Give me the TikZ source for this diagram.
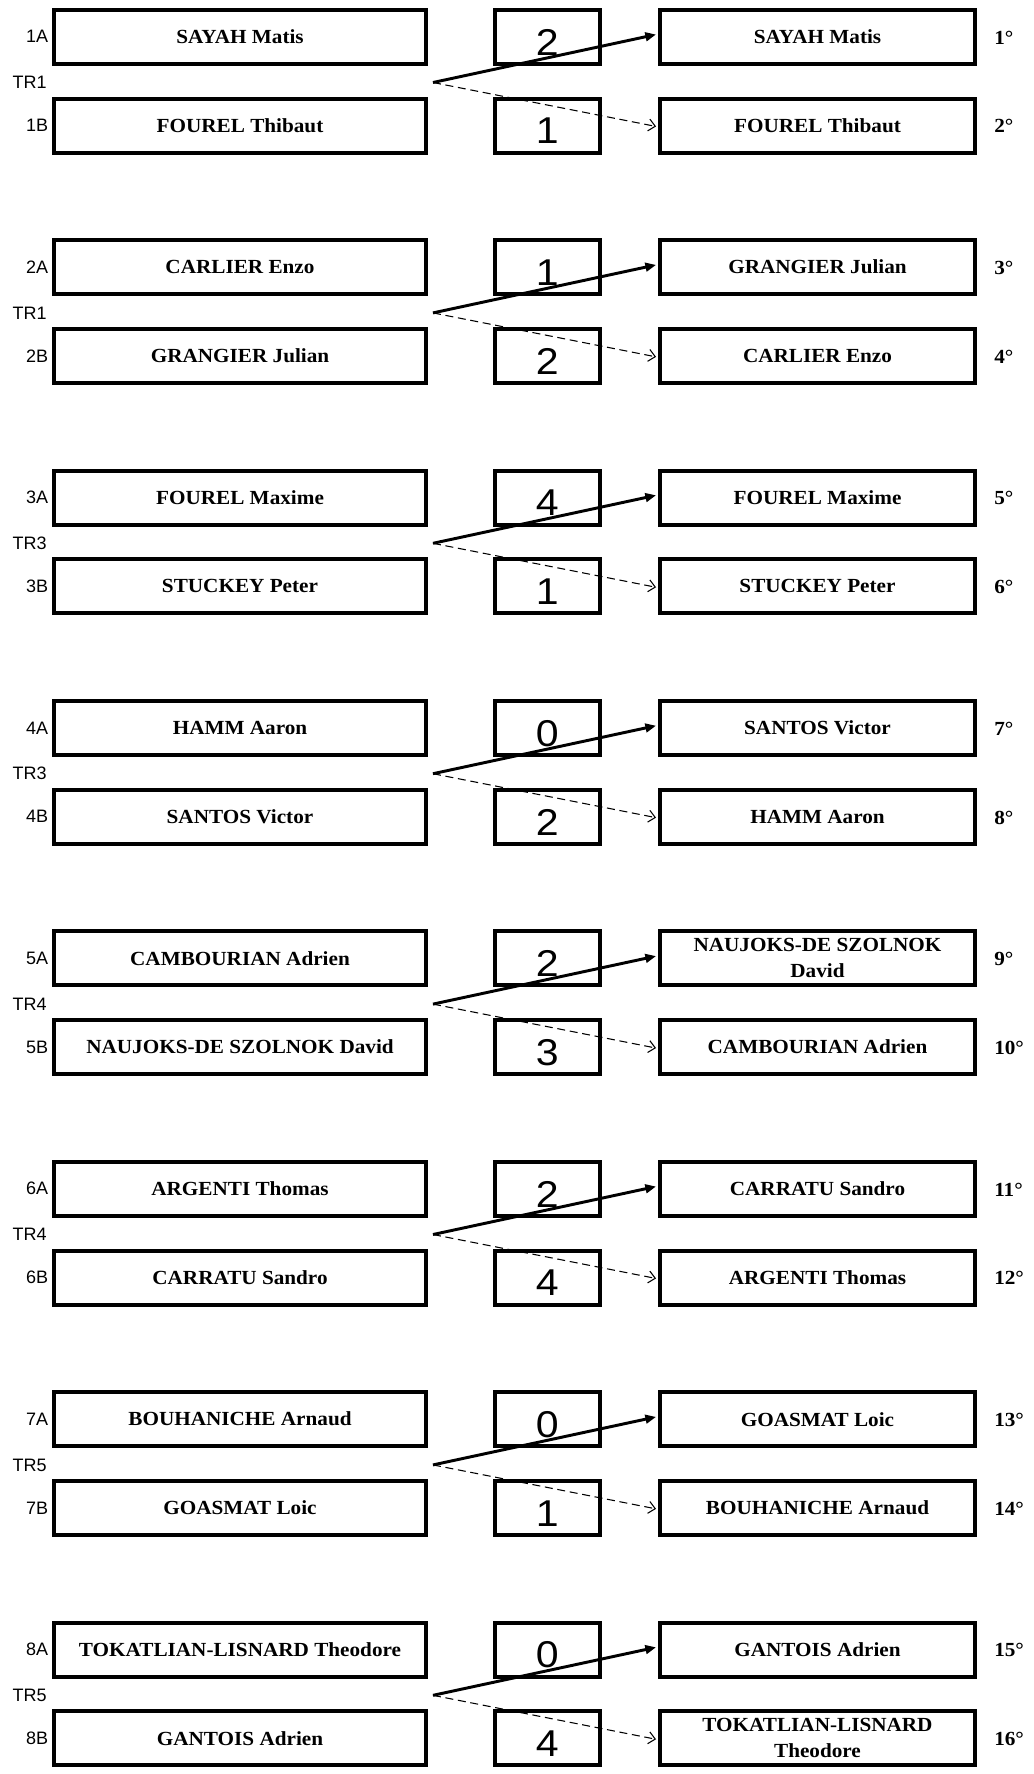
\documentclass[tikz,border=0pt]{standalone}
\usepackage{fontspec}
\setmainfont{Liberation Serif}
\newfontfamily\namefont[FakeStretch=1.06]{Liberation Serif}
\newfontfamily\labfont{Liberation Sans}
\newfontfamily\scorefont[FakeStretch=1.1]{Liberation Sans}
\usetikzlibrary{arrows.meta}
\tikzset{
 namebox/.style={draw, line width=3pt, inner sep=0pt, minimum height=40.5pt, align=center,
   font=\namefont\bfseries\fontsize{15}{19.5}\selectfont},
 leftbox/.style={namebox, minimum width=279pt},
 rightbox/.style={namebox, minimum width=236.25pt},
 scorebox/.style={draw, line width=3pt, inner sep=0pt, minimum height=40.5pt, minimum width=78.75pt,
   text height=27.6pt, text depth=0pt, font=\scorefont\fontsize{28}{30}\selectfont},
 seed/.style={anchor=east, inner sep=0pt, font=\labfont\fontsize{13.5}{15}\selectfont},
 rank/.style={anchor=west, inner sep=0pt, font=\namefont\bfseries\fontsize{15}{17}\selectfont},
 win/.style={line width=2.2pt, -{Triangle[length=8pt,width=6.5pt]}, shorten >=1.5pt},
 lose/.style={line width=0.8pt, dash pattern=on 6pt off 3.5pt, -{Straight Barb[length=5pt,width=9pt]}, shorten >=1.5pt},
}
\begin{document}
\begin{tikzpicture}[x=0.75pt,y=-0.75pt]
\fill[white] (0,0) rectangle (1034,1774);
\useasboundingbox (0,0) rectangle (1034,1774);
\foreach \i/\tr/\a/\b/\sa/\sb/\w/\l in {
 1/TR1/{SAYAH Matis}/{FOUREL Thibaut}/2/1/{SAYAH Matis}/{FOUREL Thibaut},
 2/TR1/{CARLIER Enzo}/{GRANGIER Julian}/1/2/{GRANGIER Julian}/{CARLIER Enzo},
 3/TR3/{FOUREL Maxime}/{STUCKEY Peter}/4/1/{FOUREL Maxime}/{STUCKEY Peter},
 4/TR3/{HAMM Aaron}/{SANTOS Victor}/0/2/{SANTOS Victor}/{HAMM Aaron},
 5/TR4/{CAMBOURIAN Adrien}/{NAUJOKS-DE SZOLNOK David}/2/3/{NAUJOKS-DE SZOLNOK\\David}/{CAMBOURIAN Adrien},
 6/TR4/{ARGENTI Thomas}/{CARRATU Sandro}/2/4/{CARRATU Sandro}/{ARGENTI Thomas},
 7/TR5/{BOUHANICHE Arnaud}/{GOASMAT Loic}/0/1/{GOASMAT Loic}/{BOUHANICHE Arnaud},
 8/TR5/{TOKATLIAN-LISNARD Theodore}/{GANTOIS Adrien}/0/4/{GANTOIS Adrien}/{TOKATLIAN-LISNARD\\Theodore}}{
 \pgfmathsetmacro\o{(\i-1)*230.4}
 \pgfmathtruncatemacro\ra{2*\i-1}
 \pgfmathtruncatemacro\rb{2*\i}
 \node[leftbox] (la\i) at (240,36.75+\o) {\a};
 \node[leftbox] (lb\i) at (240,125.5+\o) {\b};
 \node[seed] (sda\i) at (48.5,36.75+\o) {\i A};
 \node[seed] (sdb\i) at (48.5,125.5+\o) {\i B};
 \node[seed] (tr\i) at (47,82.5+\o) {\tr};
 \node[scorebox] (sca\i) at (547.2,36.75+\o) {\sa};
 \node[scorebox] (scb\i) at (547.2,125.5+\o) {\sb};
 \node[rightbox] (ra\i) at (817.5,36.75+\o) {\w};
 \node[rightbox] (rb\i) at (817.5,125.5+\o) {\l};
 \node[rank] (rka\i) at (994,37.5+\o) {\ra°};
 \node[rank] (rkb\i) at (994,126.25+\o) {\rb°};
 \coordinate (st\i) at (433,82.5+\o);
 \draw[win] (st\i) -- ([yshift=2pt]ra\i.west);
 \draw[lose] (st\i) -- ([yshift=-1pt]rb\i.west);
}
\end{tikzpicture}
\end{document}
